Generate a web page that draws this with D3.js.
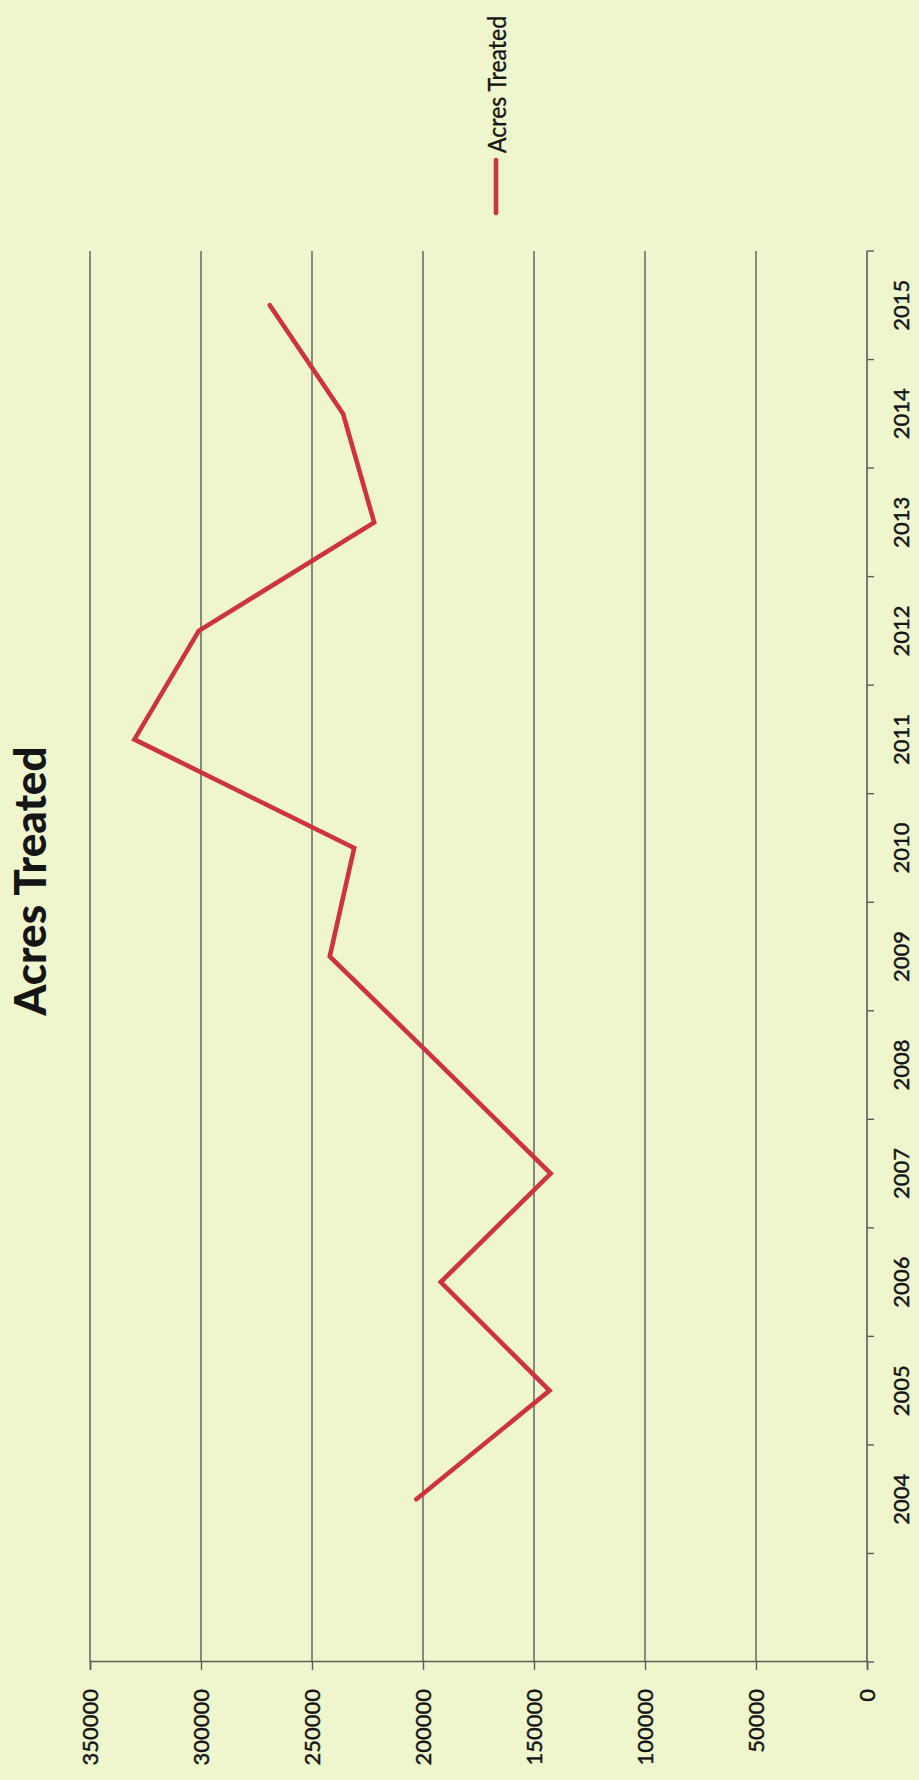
<!DOCTYPE html>
<html>
<head>
<meta charset="utf-8">
<script src="https://cdn.jsdelivr.net/npm/d3@7"></script>
<style>
  html, body { margin: 0; padding: 0; background: #EFF6CD; }
  svg { display: block; }
</style>
</head>
<body>
<svg id="chart" width="919" height="1780"></svg>
<script>
// ---- data ----
const categories = ["", "2004", "2005", "2006", "2007", "2008", "2009", "2010", "2011", "2012", "2013", "2014", "2015"];
const acresTreated = [null, 203000, 143000, 192000, 142500, 192000, 242000, 231000, 330000, 301000, 222000, 236000, 269000];
const valueTicks = [0, 50000, 100000, 150000, 200000, 250000, 300000, 350000];
const seriesName = "Acres Treated";
const chartTitle = "Acres Treated";

// ---- layout (local, un-rotated frame; the page shows the chart turned 90° counter-clockwise) ----
const PAGE_W = 919, PAGE_H = 1780;
const plot = { left: 118, right: 1529, top: 90, bottom: 867 };

const svg = d3.select("#chart");
svg.append("rect").attr("width", PAGE_W).attr("height", PAGE_H).attr("fill", "#EFF6CD");

const g = svg.append("g").attr("transform", `translate(0,${PAGE_H}) rotate(-90)`);

const x = d3.scaleBand().domain(categories.map((c, i) => i)).range([plot.left, plot.right]);
const y = d3.scaleLinear().domain([0, 350000]).range([plot.bottom, plot.top]);

const gridColor = "#5c5c5c";
const textColor = "#151515";
const fontFamily = "Lato, 'Open Sans', 'Liberation Sans', sans-serif";

// gridlines
g.append("g")
  .selectAll("line")
  .data(valueTicks.filter(v => v > 0))
  .join("line")
  .attr("x1", plot.left).attr("x2", plot.right)
  .attr("y1", d => y(d)).attr("y2", d => y(d))
  .attr("stroke", gridColor).attr("stroke-width", 1.4);

// value axis (left in chart frame)
const yAxis = g.append("g")
  .attr("transform", `translate(${plot.left},0)`)
  .call(d3.axisLeft(y).tickValues(valueTicks).tickSize(8).tickPadding(19).tickFormat(d3.format("d")));
yAxis.select(".domain").attr("stroke", gridColor).attr("stroke-width", 1.6);
yAxis.selectAll(".tick line").attr("stroke", gridColor).attr("stroke-width", 1.4);
yAxis.selectAll(".tick text")
  .attr("dy", "0.36em")
  .attr("fill", textColor)
  .attr("stroke", textColor).attr("stroke-width", 0.45)
  .attr("font-family", fontFamily)
  .attr("font-size", 22);

// category axis (bottom in chart frame)
const xAxisG = g.append("g").attr("transform", `translate(0,${plot.bottom})`);
xAxisG.append("line")
  .attr("x1", plot.left).attr("x2", plot.right)
  .attr("stroke", gridColor).attr("stroke-width", 1.6);
const boundaries = categories.map((c, i) => x(i)).concat([x(categories.length - 1) + x.bandwidth()]);
xAxisG.selectAll("line.tk")
  .data(boundaries)
  .join("line").attr("class", "tk")
  .attr("x1", d => d).attr("x2", d => d)
  .attr("y1", 0).attr("y2", 7)
  .attr("stroke", gridColor).attr("stroke-width", 1.4);
xAxisG.selectAll("text")
  .data(categories.map((c, i) => ({ c, i })).filter(d => d.c !== ""))
  .join("text")
  .attr("x", d => x(d.i) + x.bandwidth() / 2)
  .attr("y", 42)
  .attr("text-anchor", "middle")
  .attr("fill", textColor)
  .attr("stroke", textColor).attr("stroke-width", 0.45)
  .attr("font-family", fontFamily)
  .attr("font-size", 22)
  .text(d => d.c);

// series line
const line = d3.line()
  .defined(d => d.v !== null)
  .x(d => x(d.i) + x.bandwidth() / 2)
  .y(d => y(d.v));
g.append("path")
  .datum(acresTreated.map((v, i) => ({ v, i })))
  .attr("d", line)
  .attr("fill", "none")
  .attr("stroke", "#CE3440")
  .attr("stroke-width", 4.6)
  .attr("stroke-linejoin", "miter")
  .attr("stroke-linecap", "round");

// title
g.append("text")
  .attr("x", 899).attr("y", 29)
  .attr("text-anchor", "middle")
  .attr("dominant-baseline", "central")
  .attr("font-family", fontFamily)
  .attr("font-weight", 900)
  .attr("font-size", 44)
  .attr("fill", textColor)
  .text(chartTitle);

// legend
const lg = g.append("g");
lg.append("line")
  .attr("x1", 1567).attr("x2", 1620)
  .attr("y1", 496).attr("y2", 496)
  .attr("stroke", "#CE3440").attr("stroke-width", 4.6).attr("stroke-linecap", "round");
lg.append("g")
  .attr("transform", `translate(1627,496) scale(0.92,1)`)
  .append("text")
  .attr("dominant-baseline", "central")
  .attr("font-family", fontFamily)
  .attr("font-size", 25)
  .attr("fill", textColor)
  .attr("stroke", textColor).attr("stroke-width", 0.35)
  .text(seriesName);
</script>
</body>
</html>
